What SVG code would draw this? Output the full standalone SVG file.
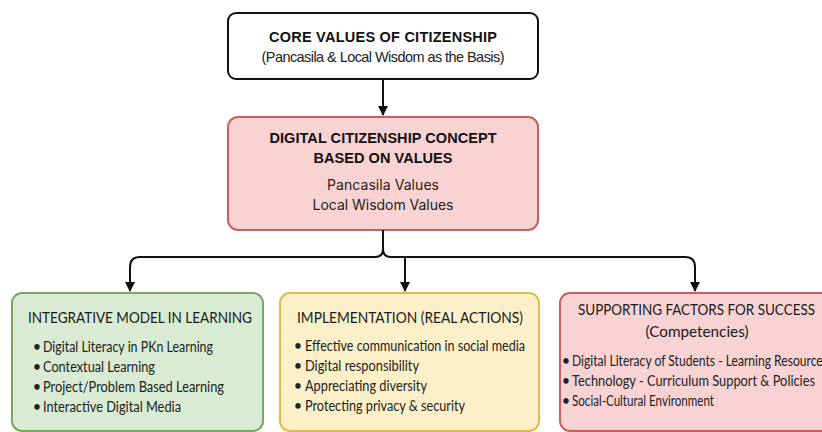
<svg xmlns="http://www.w3.org/2000/svg" width="822" height="432" viewBox="0 0 822 432">
<defs>
<marker id="arr" viewBox="0 0 10 10" refX="9" refY="5" markerWidth="5" markerHeight="5" orient="auto" markerUnits="strokeWidth">
<path d="M0,0 L10,5 L0,10 z" fill="#111"/>
</marker>
<style>
.hd{font-family:"Liberation Sans",Arial,sans-serif;font-weight:bold;font-size:14.5px;fill:#111;text-anchor:middle}
.sb{font-family:"Liberation Sans",Arial,sans-serif;font-size:14.5px;fill:#222;text-anchor:middle}
.pv{font-family:Inter,"Liberation Sans",sans-serif;font-size:14px;fill:#222;text-anchor:middle}
.bt{font-family:Lato,"Open Sans",sans-serif;font-size:16px;fill:#1a1a1a}
.it{font-family:Lato,"Open Sans",sans-serif;font-size:14.5px;fill:#222}
.bl{font-family:Lato,"Open Sans",sans-serif;font-size:14.5px;fill:#222;text-anchor:middle}
.con{fill:none;stroke:#111;stroke-width:2}
</style>
</defs>
<rect width="822" height="432" fill="#ffffff"/>
<g id="core">
<rect x="228" y="13" width="310" height="66" rx="8" fill="#fff" stroke="#111" stroke-width="2"/>
<text class="hd" x="383" y="42" textLength="228">CORE VALUES OF CITIZENSHIP</text>
<text class="sb" x="383" y="62" textLength="243">(Pancasila &amp; Local Wisdom as the Basis)</text>
</g>
<g id="concept">
<rect x="228" y="117" width="310" height="113" rx="10" fill="#f9d2d2" stroke="#c95f5f" stroke-width="2"/>
<text class="hd" x="383" y="143" textLength="227">DIGITAL CITIZENSHIP CONCEPT</text>
<text class="hd" x="383" y="163" textLength="139">BASED ON VALUES</text>
<text class="pv" x="383" y="190" textLength="112">Pancasila Values</text>
<text class="pv" x="383" y="210" textLength="141">Local Wisdom Values</text>
</g>
<g id="integrative">
<rect x="12" y="293" width="251" height="138" rx="10" fill="#d9ebd3" stroke="#7aa862" stroke-width="2"/>
<text class="bt" x="28" y="323" textLength="224" lengthAdjust="spacingAndGlyphs">INTEGRATIVE MODEL IN LEARNING</text>
<text class="bl" x="37" y="352">•</text><text class="it" x="43" y="352" textLength="170" lengthAdjust="spacingAndGlyphs">Digital Literacy in PKn Learning</text>
<text class="bl" x="37" y="372">•</text><text class="it" x="43" y="372" textLength="112" lengthAdjust="spacingAndGlyphs">Contextual Learning</text>
<text class="bl" x="37" y="392">•</text><text class="it" x="43" y="392" textLength="181" lengthAdjust="spacingAndGlyphs">Project/Problem Based Learning</text>
<text class="bl" x="37" y="412">•</text><text class="it" x="43" y="412" textLength="138" lengthAdjust="spacingAndGlyphs">Interactive Digital Media</text>
</g>
<g id="implementation">
<rect x="280" y="293" width="259" height="138" rx="10" fill="#fdf0c9" stroke="#e1b94c" stroke-width="2"/>
<text class="bt" x="297" y="323" textLength="226" lengthAdjust="spacingAndGlyphs">IMPLEMENTATION (REAL ACTIONS)</text>
<text class="bl" x="298" y="351">•</text><text class="it" x="305" y="351" textLength="220" lengthAdjust="spacingAndGlyphs">Effective communication in social media</text>
<text class="bl" x="298" y="371">•</text><text class="it" x="305" y="371" textLength="114" lengthAdjust="spacingAndGlyphs">Digital responsibility</text>
<text class="bl" x="298" y="391">•</text><text class="it" x="305" y="391" textLength="122" lengthAdjust="spacingAndGlyphs">Appreciating diversity</text>
<text class="bl" x="298" y="411">•</text><text class="it" x="305" y="411" textLength="160" lengthAdjust="spacingAndGlyphs">Protecting privacy &amp; security</text>
</g>
<g id="supporting">
<rect x="560" y="293" width="272" height="138" rx="10" fill="#f9d3d3" stroke="#c95f5f" stroke-width="2"/>
<text class="bt" x="578" y="315" textLength="237" lengthAdjust="spacingAndGlyphs">SUPPORTING FACTORS FOR SUCCESS</text>
<text class="bt" x="697" y="337" style="text-anchor:middle" textLength="103" lengthAdjust="spacingAndGlyphs">(Competencies)</text>
<text class="bl" x="566" y="366">•</text><text class="it" x="572" y="366" textLength="256" lengthAdjust="spacingAndGlyphs">Digital Literacy of Students - Learning Resources</text>
<text class="bl" x="566" y="386">•</text><text class="it" x="572" y="386" textLength="243" lengthAdjust="spacingAndGlyphs">Technology - Curriculum Support &amp; Policies</text>
<text class="bl" x="566" y="406">•</text><text class="it" x="572" y="406" textLength="142" lengthAdjust="spacingAndGlyphs">Social-Cultural Environment</text>
</g>
<g id="connectors">
<path class="con" d="M383,79 V115" marker-end="url(#arr)"/>
<path class="con" d="M383,230 V249 Q383,257 375,257 H140 Q130,257 130,267 V291" marker-end="url(#arr)"/>
<path class="con" d="M383,249 Q383,257 391,257 H685 Q695,257 695,267 V291" marker-end="url(#arr)"/>
<path class="con" d="M405,257 V291" marker-end="url(#arr)"/>
</g>
</svg>
